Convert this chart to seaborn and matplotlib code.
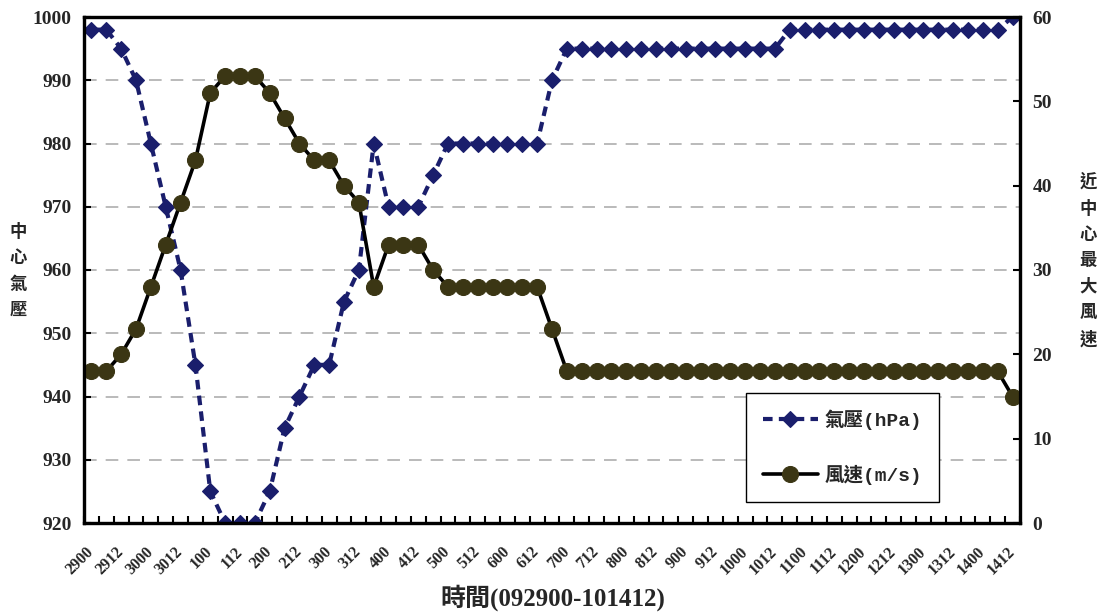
import matplotlib
matplotlib.use("Agg")
import numpy as np
import pandas as pd
import matplotlib.pyplot as plt
from matplotlib.ticker import FixedLocator
from matplotlib.font_manager import FontProperties
from matplotlib.transforms import ScaledTranslation
import seaborn as sns

# Observation times (day + hour, every 6 hours)
times = [
    "2900", "2906", "2912", "2918", "3000", "3006", "3012", "3018",
    "100", "106", "112", "118", "200", "206", "212", "218",
    "300", "306", "312", "318", "400", "406", "412", "418",
    "500", "506", "512", "518", "600", "606", "612", "618",
    "700", "706", "712", "718", "800", "806", "812", "818",
    "900", "906", "912", "918", "1000", "1006", "1012", "1018",
    "1100", "1106", "1112", "1118", "1200", "1206", "1212", "1218",
    "1300", "1306", "1312", "1318", "1400", "1406", "1412",
]

# Central pressure (hPa)
pressure = [
    998, 998, 995, 990, 980, 970, 960, 945,
    925, 920, 920, 920, 925, 935, 940, 945,
    945, 955, 960, 980, 970, 970, 970, 975,
    980, 980, 980, 980, 980, 980, 980, 990,
    995, 995, 995, 995, 995, 995, 995, 995,
    995, 995, 995, 995, 995, 995, 995, 998,
    998, 998, 998, 998, 998, 998, 998, 998,
    998, 998, 998, 998, 998, 998, 1000,
]

# Maximum wind speed near the centre (m/s)
wind = [
    18, 18, 20, 23, 28, 33, 38, 43,
    51, 53, 53, 53, 51, 48, 45, 43,
    43, 40, 38, 28, 33, 33, 33, 30,
    28, 28, 28, 28, 28, 28, 28, 23,
    18, 18, 18, 18, 18, 18, 18, 18,
    18, 18, 18, 18, 18, 18, 18, 18,
    18, 18, 18, 18, 18, 18, 18, 18,
    18, 18, 18, 18, 18, 18, 15,
]

pressure_ticks = [920, 930, 940, 950, 960, 970, 980, 990, 1000]
wind_ticks = [0, 10, 20, 30, 40, 50, 60]

NAVY = "#1a1e6c"
OLIVE = "#3b3614"

sns.set_theme(style="white")
plt.rcParams["font.family"] = ["Liberation Serif", "Noto Sans CJK TC", "DejaVu Sans"]
plt.rcParams["font.weight"] = "bold"

df = pd.DataFrame({
    "pos": np.arange(len(times)),
    "time": times,
    "pressure": pressure,
    "wind": wind,
})

fig = plt.figure(figsize=(11.04, 6.13), dpi=100)
ax = fig.add_axes([84 / 1104, 1 - 523 / 613, 936 / 1104, 506 / 613])
ax2 = ax.twinx()

# Pressure: dashed navy line with diamonds
sns.lineplot(data=df, x="pos", y="pressure", ax=ax, color=NAVY,
             linewidth=3.0, marker="D", markersize=8.6,
             markeredgecolor=NAVY, markeredgewidth=0.8, legend=False)
p_line = ax.lines[-1]
p_line.set_dashes([2.3, 1.5])

# Wind speed: solid black line with olive circles
sns.lineplot(data=df, x="pos", y="wind", ax=ax2, color="black",
             linewidth=2.6, marker="o", markersize=11.5,
             markerfacecolor=OLIVE, markeredgecolor=OLIVE,
             markeredgewidth=0.8, legend=False)
w_line = ax2.lines[-1]

ax.set_xlim(-0.5, len(times) - 0.5)
ax.set_ylim(pressure_ticks[0], pressure_ticks[-1])
ax2.set_ylim(wind_ticks[0], wind_ticks[-1])

tick_font = FontProperties(family="Liberation Serif", weight="bold", size=14)
xtick_font = FontProperties(family="Liberation Serif", weight="bold", size=11.5)

ax.set_yticks(pressure_ticks)
ax.set_yticklabels([str(v) for v in pressure_ticks], fontproperties=tick_font)
ax2.set_yticks(wind_ticks)
ax2.set_yticklabels([str(v) for v in wind_ticks], fontproperties=tick_font)

major_pos = list(range(0, len(times), 2))
ax.set_xticks(major_pos)
ax.set_xticklabels([times[i] for i in major_pos], fontproperties=xtick_font,
                   rotation=45, ha="right", va="center", rotation_mode="anchor")
shift = ScaledTranslation(-0.06, 0, fig.dpi_scale_trans)
for lbl in ax.get_xticklabels():
    lbl.set_transform(lbl.get_transform() + shift)
ax.xaxis.set_minor_locator(FixedLocator(np.arange(-0.5, len(times), 1.0)))

ax.tick_params(axis="x", which="major", bottom=True, length=0, pad=19)
ax.tick_params(axis="x", which="minor", bottom=True, direction="in",
               length=5, width=1.5, color="black")
ax.tick_params(axis="y", left=True, direction="in", length=5, width=1.5,
               color="black", pad=9)
ax2.tick_params(axis="y", right=True, direction="in", length=5, width=1.5,
                color="black", pad=9)

ax.yaxis.grid(True, linestyle=(0, (7, 5)), color="#b4b4b4", linewidth=1.3)
ax.xaxis.grid(False)
ax2.grid(False)

for a in (ax, ax2):
    for s in a.spines.values():
        s.set_visible(True)
        s.set_color("black")
        s.set_linewidth(2.3)

ax.set_xlabel("")
ax.set_ylabel("中\n心\n氣\n壓", rotation=0, fontsize=12.5, fontweight="bold",
              linespacing=1.8, ha="center", va="center")
ax.yaxis.set_label_coords(-0.0705, 0.498)
ax2.set_ylabel("近\n中\n心\n最\n大\n風\n速", rotation=0, fontsize=12.5,
               fontweight="bold", linespacing=1.8, ha="center", va="center")
ax2.yaxis.set_label_coords(1.0726, 0.518)

fig.text(553 / 1104, 1 - 598 / 613, "時間(092900-101412)", ha="center",
         va="center", fontsize=18, fontweight="bold",
         family=["Liberation Serif", "Noto Sans CJK TC"])

legend_font = FontProperties(family=["Liberation Mono", "Noto Sans CJK TC"],
                             weight="bold", size=14)
leg = ax2.legend([p_line, w_line], ["氣壓(hPa)", "風速(m/s)"],
                 loc="upper left", bbox_to_anchor=(746 / 1104, 1 - 393 / 613),
                 bbox_transform=fig.transFigure, prop=legend_font,
                 frameon=True, fancybox=False, framealpha=1, borderpad=0.85,
                 labelspacing=1.8, handlelength=2.85, handletextpad=0.35,
                 borderaxespad=0)
leg.get_frame().set_edgecolor("black")
leg.get_frame().set_linewidth(1.0)

fig.savefig("out.png", dpi=100)
